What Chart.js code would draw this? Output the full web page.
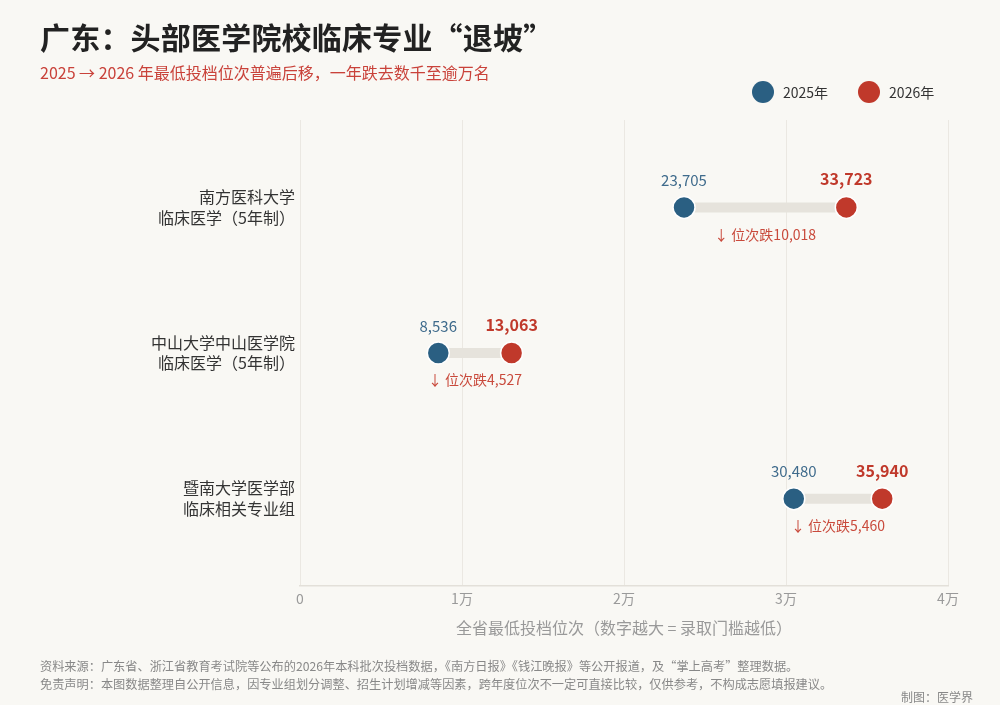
<!DOCTYPE html>
<html>
<head>
<meta charset="utf-8">
<script src="https://cdn.jsdelivr.net/npm/chart.js@4.4.1/dist/chart.umd.min.js"></script>
<style>
  html, body { margin: 0; padding: 0; background: #f9f8f4; }
  body { width: 1000px; height: 705px; position: relative; overflow: hidden; font-family: "Noto Sans CJK SC", "Noto Sans", sans-serif; }
  #chart { position: absolute; left: 0; top: 0; }
  .title { position: absolute; left: 40px; top: 14px; font-size: 30px; font-weight: 700; color: #222; letter-spacing: 0.2px; }
  .subtitle { position: absolute; left: 40px; top: 60px; font-size: 16px; color: #c9423a; }
  .legend { position: absolute; top: 81px; left: 752px; font-size: 14px; color: #333; display: flex; align-items: center; }
  .legend .dot { width: 22px; height: 22px; border-radius: 50%; display: inline-block; margin-right: 9px; }
  .legend .item { display: flex; align-items: center; margin-right: 30px; }
  .foot { position: absolute; left: 40px; font-size: 12.2px; color: #888; }
  .credit { position: absolute; right: 27px; top: 688px; font-size: 12px; color: #888; }
</style>
</head>
<body>
<canvas id="chart" width="1000" height="705"></canvas>
<div class="title">广东：头部医学院校临床专业“退坡”</div>
<div class="subtitle">2025 → 2026 年最低投档位次普遍后移，一年跌去数千至逾万名</div>
<div class="legend">
  <div class="item"><span class="dot" style="background:#2a5f82"></span>2025年</div>
  <div class="item"><span class="dot" style="background:#c0392b"></span>2026年</div>
</div>
<div class="foot" style="top:657px">资料来源：广东省、浙江省教育考试院等公布的2026年本科批次投档数据，《南方日报》《钱江晚报》等公开报道，及“掌上高考”整理数据。</div>
<div class="foot" style="top:675px">免责声明：本图数据整理自公开信息，因专业组划分调整、招生计划增减等因素，跨年度位次不一定可直接比较，仅供参考，不构成志愿填报建议。</div>
<div class="credit">制图：医学界</div>
<script>
const schools = [
  ['南方医科大学', '临床医学（5年制）'],
  ['中山大学中山医学院', '临床医学（5年制）'],
  ['暨南大学医学部', '临床相关专业组']
];
const rank2025 = [23705, 8536, 30480];
const rank2026 = [33723, 13063, 35940];
const xTicks = [0, 10000, 20000, 30000, 40000];
const xTickLabels = ['0', '1万', '2万', '3万', '4万'];

const BLUE = '#2a5f82';
const RED = '#c0392b';
const FONT = '"Noto Sans CJK SC", "Noto Sans", sans-serif';
const fmt = n => n.toLocaleString('en-US');

// connector bars, one line per school
const connectors = schools.map((s, i) => ({
  type: 'line',
  data: [{ x: rank2025[i], y: i }, { x: rank2026[i], y: i }],
  borderColor: '#e6e3dc',
  borderWidth: 10,
  borderCapStyle: 'butt',
  pointRadius: 0,
  order: 10
}));

const dumbbellLabels = {
  id: 'dumbbellLabels',
  afterDatasetsDraw(chart) {
    const { ctx, scales: { x, y } } = chart;
    ctx.save();
    ctx.textAlign = 'center';
    ctx.textBaseline = 'middle';
    schools.forEach((s, i) => {
      const py = y.getPixelForValue(i);
      const x1 = x.getPixelForValue(rank2025[i]);
      const x2 = x.getPixelForValue(rank2026[i]);
      ctx.font = '15px ' + FONT;
      ctx.fillStyle = '#3f6b8c';
      ctx.fillText(fmt(rank2025[i]), x1, py - 27);
      ctx.font = 'bold 16px ' + FONT;
      ctx.fillStyle = RED;
      ctx.fillText(fmt(rank2026[i]), x2, py - 28);
      ctx.font = '14px ' + FONT;
      ctx.fillStyle = '#c94a3c';
      ctx.fillText('↓ 位次跌' + fmt(rank2026[i] - rank2025[i]), (x1 + x2) / 2, py + 27);
    });
    ctx.restore();
  }
};

new Chart(document.getElementById('chart'), {
  type: 'scatter',
  data: {
    datasets: [
      {
        label: '2025年',
        data: rank2025.map((v, i) => ({ x: v, y: i })),
        backgroundColor: BLUE,
        borderColor: '#ffffff',
        borderWidth: 1.5,
        pointRadius: 11,
        order: 0
      },
      {
        label: '2026年',
        data: rank2026.map((v, i) => ({ x: v, y: i })),
        backgroundColor: RED,
        borderColor: '#ffffff',
        borderWidth: 1.5,
        pointRadius: 11,
        order: 0
      },
      ...connectors
    ]
  },
  options: {
    responsive: false,
    animation: false,
    layout: { padding: { top: 120, right: 52, bottom: 67, left: 0 } },
    plugins: {
      legend: { display: false },
      tooltip: { enabled: false }
    },
    scales: {
      x: {
        type: 'linear',
        min: 0,
        max: 40000,
        afterBuildTicks: scale => { scale.ticks = xTicks.map(v => ({ value: v })); },
        ticks: {
          color: '#9a9a9a',
          font: { family: FONT, size: 14 },
          padding: 4,
          maxRotation: 0,
          callback: (v) => xTickLabels[xTicks.indexOf(v)]
        },
        grid: { color: '#ebe8e2', lineWidth: 1, drawTicks: false },
        border: { color: '#e3e0d9', width: 1.5 },
        title: {
          display: true,
          text: '全省最低投档位次（数字越大 = 录取门槛越低）',
          color: '#999',
          font: { family: FONT, size: 16 },
          padding: { top: 8, bottom: 0 }
        }
      },
      y: {
        type: 'linear',
        min: -0.6,
        max: 2.6,
        reverse: true,
        afterFit: scale => { scale.width = 300; },
        afterBuildTicks: scale => { scale.ticks = schools.map((s, i) => ({ value: i })); },
        ticks: {
          color: '#333',
          font: { family: FONT, size: 16, lineHeight: 1.3 },
          padding: 5,
          callback: (v) => schools[v]
        },
        grid: { display: false, drawTicks: false },
        border: { display: false }
      }
    }
  },
  plugins: [dumbbellLabels]
});
</script>
</body>
</html>
